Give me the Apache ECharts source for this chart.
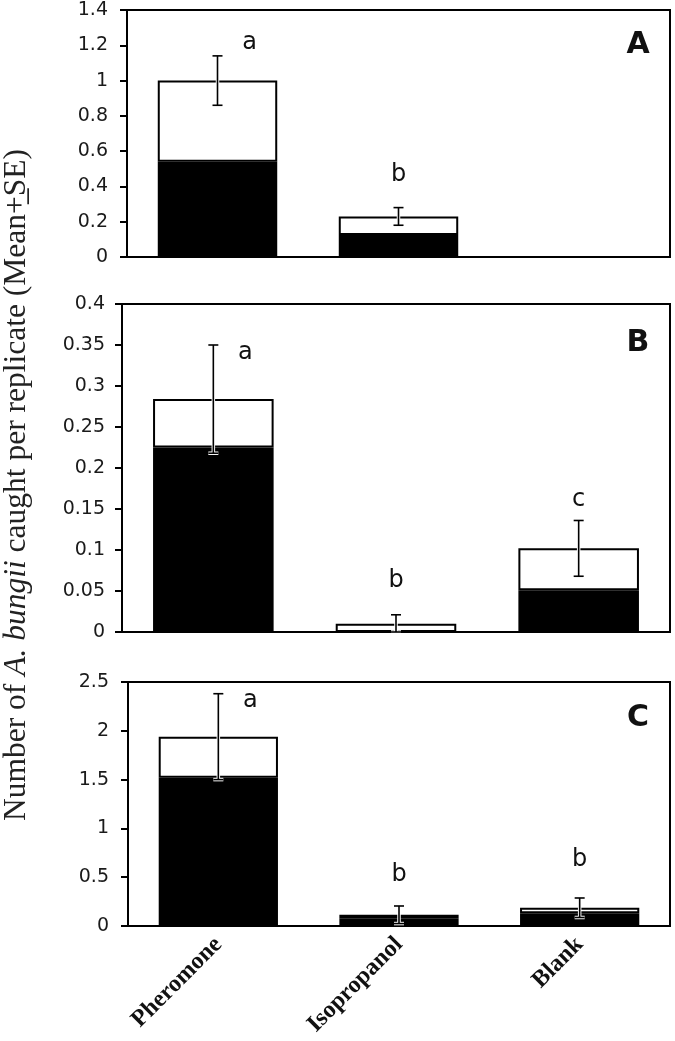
<!DOCTYPE html>
<html>
<head>
<meta charset="utf-8">
<script src="https://cdn.jsdelivr.net/npm/echarts@6/dist/echarts.min.js"></script>
<style>
  html, body { margin: 0; padding: 0; background: #fff; }
  #chart { width: 675px; height: 1041px; }
</style>
</head>
<body>
<div id="chart"></div>
<script>
// ---------- DATA ----------
var categories = ['Pheromone', 'Isopropanol', 'Blank'];

// Panel A
var blackA = [0.54, 0.125, 0];
var whiteA = [0.46, 0.105, 0];
var seA    = [0.14, 0.05, 0];
var lettersA = ['a', 'b', ''];
var letterYA = [1.213, 0.465, 0];

// Panel B
var blackB = [0.225, 0, 0.051];
var whiteB = [0.059, 0.01, 0.051];
var seB    = [0.066, 0.011, 0.034];
var lettersB = ['a', 'b', 'c'];
var letterYB = [0.340, 0.063, 0.161];

// Panel C
var blackC = [1.52, 0.08, 0.13];
var whiteC = [0.42, 0.035, 0.057];
var seC    = [0.44, 0.09, 0.10];
var lettersC = ['a', 'b', 'b'];
var letterYC = [2.31, 0.52, 0.675];

var axisMax = [1.4, 0.4, 2.5];
var axisInterval = [0.2, 0.05, 0.5];
var panelNames = ['A', 'B', 'C'];

// ---------- CHART ----------
var chart = echarts.init(document.getElementById('chart'), null, { renderer: 'canvas' });

var grids = [
  { left: 127, right: 5, top: 10, height: 247 },
  { left: 122, right: 5, top: 304, height: 328 },
  { left: 128, right: 5, top: 682, height: 244 }
];
var labelMargins = [19, 17, 19];

var panels = [
  { black: blackA, white: whiteA, se: seA, letters: lettersA, letterY: letterYA },
  { black: blackB, white: whiteB, se: seB, letters: lettersB, letterY: letterYB },
  { black: blackC, white: whiteC, se: seC, letters: lettersC, letterY: letterYC }
];

var xAxes = [], yAxes = [], series = [];
grids.forEach(function (g, i) {
  g.show = true;
  g.borderColor = '#000';
  g.borderWidth = 2;
  g.backgroundColor = 'transparent';
  xAxes.push({
    type: 'category', gridIndex: i, data: categories,
    axisLine: { lineStyle: { color: '#000', width: 2 } },
    axisTick: { show: false },
    axisLabel: i === 2 ? {
      show: true, rotate: 45, margin: 15, interval: 0,
      fontFamily: 'Liberation Serif', fontWeight: 'bold', fontSize: 24, color: '#111'
    } : { show: false },
    splitLine: { show: false }
  });
  yAxes.push({
    type: 'value', gridIndex: i, min: 0, max: axisMax[i], interval: axisInterval[i],
    axisLine: { show: true, lineStyle: { color: '#000', width: 2 } },
    axisTick: { show: true, length: 7, lineStyle: { color: '#000', width: 2 } },
    axisLabel: { margin: labelMargins[i], fontFamily: 'DejaVu Sans', fontSize: 19, color: '#1a1a1a' },
    splitLine: { show: false }
  });

  var p = panels[i];
  series.push({
    type: 'bar', xAxisIndex: i, yAxisIndex: i, stack: 's' + i, barWidth: '66%',
    data: p.black, itemStyle: { color: '#000', borderColor: '#000', borderWidth: 2 },
    silent: true, animation: false
  });
  series.push({
    type: 'bar', xAxisIndex: i, yAxisIndex: i, stack: 's' + i, barWidth: '66%',
    data: p.white, itemStyle: { color: '#fff', borderColor: '#000', borderWidth: 2 },
    silent: true, animation: false
  });
  // error bars
  var errData = categories.map(function (c, k) {
    return [k, p.black[k] + p.white[k], p.se[k]];
  });
  series.push({
    type: 'custom', xAxisIndex: i, yAxisIndex: i, data: errData, silent: true, animation: false, z: 10,
    renderItem: function (params, api) {
      var x = api.value(0), m = api.value(1), s = api.value(2);
      if (s <= 0) return null;
      var top = api.coord([x, m + s]);
      var bot = api.coord([x, Math.max(0, m - s)]);
      var hw = 5;
      var children = [];
      [['#fff', 3.5], ['#000', 1.6]].forEach(function (st) {
        var style = { stroke: st[0], lineWidth: st[1] };
        children.push({ type: 'line', shape: { x1: top[0], y1: top[1], x2: bot[0], y2: bot[1] }, style: style });
        children.push({ type: 'line', shape: { x1: top[0] - hw, y1: top[1], x2: top[0] + hw, y2: top[1] }, style: style });
        children.push({ type: 'line', shape: { x1: bot[0] - hw, y1: bot[1], x2: bot[0] + hw, y2: bot[1] }, style: style });
      });
      return { type: 'group', children: children };
    }
  });
  // significance letters
  var letterData = [];
  categories.forEach(function (c, k) {
    if (p.letters[k]) letterData.push({ value: [k, p.letterY[k]], name: p.letters[k], idx: k });
  });
  series.push({
    type: 'custom', xAxisIndex: i, yAxisIndex: i, silent: true, animation: false, z: 11,
    data: letterData.map(function (d) { return [d.value[0], d.value[1], d.name]; }),
    renderItem: function (params, api) {
      var k = api.value(0);
      var pt = api.coord([k, api.value(1)]);
      var dx = (k === 0) ? 32 : 0;
      var txt = letterData[params.dataIndex].name;
      return {
        type: 'text', x: pt[0] + dx, y: pt[1],
        style: { text: txt, fontFamily: 'DejaVu Sans', fontSize: 24, fill: '#111', align: 'center', verticalAlign: 'middle' }
      };
    }
  });
});

var panelLabelY = [45, 343, 718];
var graphics = panelNames.map(function (n, i) {
  return {
    type: 'text', x: 638, y: panelLabelY[i],
    style: { text: n, fontFamily: 'DejaVu Sans', fontWeight: 'bold', fontSize: 30, fill: '#111', align: 'center', verticalAlign: 'middle' }
  };
});
graphics.push({
  type: 'text', x: 17, y: 485, rotation: Math.PI / 2,
  style: {
    text: '{n|Number of }{i|A. bungii}{n| caught per replicate (Mean+\u0332SE)}',
    align: 'center', verticalAlign: 'middle',
    rich: {
      n: { fontFamily: 'Liberation Serif', fontSize: 31.5, fill: '#222' },
      i: { fontFamily: 'Liberation Serif', fontStyle: 'italic', fontSize: 31.5, fill: '#222' }
    }
  }
});

chart.setOption({
  animation: false,
  backgroundColor: '#fff',
  grid: grids,
  xAxis: xAxes,
  yAxis: yAxes,
  series: series,
  graphic: graphics
});
</script>
</body>
</html>
